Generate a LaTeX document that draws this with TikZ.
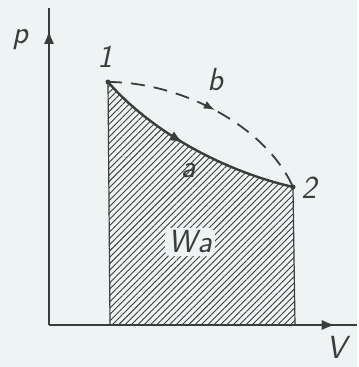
\documentclass[tikz,border=0pt]{standalone}
\usepackage{tikz}
\usetikzlibrary{arrows.meta,patterns.meta,decorations.markings}
\definecolor{FondoPapel}{RGB}{238,244,244}
\definecolor{TintaGris}{RGB}{60,60,60}

\begin{document}
\begin{tikzpicture}[x=1pt,y=-1pt,>=Latex,
    eje/.style={line width=2.4pt,TintaGris},
    rotulo/.style={font=\fontsize{32}{32}\selectfont\sffamily\slshape,TintaGris,inner sep=0pt},
    flecha/.style={decoration={markings,mark=at position #1 with {\arrow[scale=1.0]{>}}},postaction=decorate}]
  \fill[FondoPapel] (0,0) rectangle (357,367);
  \coordinate (O) at (49,325);
  \coordinate (P1) at (108,82);
  \coordinate (P2) at (293,187);
  % area under a
  \fill[pattern={Lines[angle=45,distance=4.5pt,line width=0.9pt]},pattern color=TintaGris]
    (P1) .. controls (150,130) and (220,170) .. (P2) -- (295,325) -- (110,325) -- cycle;
  \draw[line width=1.2pt,TintaGris] (P1) -- (110,325) (P2) -- (295,325);
  \node[rotulo,fill=FondoPapel,inner sep=3pt,rounded corners=6pt] (Wa) at (190,242) {W\kern1pt a};
  % axes
  \draw[eje,flecha=0.93] (O) -- (49,8);
  \draw[eje,flecha=0.93] (O) -- (357,325);
  % processes
  \draw[line width=2.4pt,TintaGris,flecha=0.45] (P1) .. controls (150,130) and (220,170) .. (P2);
  \draw[line width=1.8pt,TintaGris,dash pattern=on 14pt off 9pt,flecha=0.5] (P1) .. controls (180,82) and (265,125) .. (P2);
  \fill[TintaGris] (P1) circle (2.5) (P2) circle (2.5);
  \node[rotulo] (lp) at (20,40) {p};
  \node[rotulo] (lV) at (336,347) {V};
  \node[rotulo] (l1) at (105,57) {1};
  \node[rotulo] (l2) at (309,188) {2};
  \node[rotulo] (la) at (188,171) {a};
  \node[rotulo] (lb) at (215,80) {b};
\end{tikzpicture}
\end{document}
